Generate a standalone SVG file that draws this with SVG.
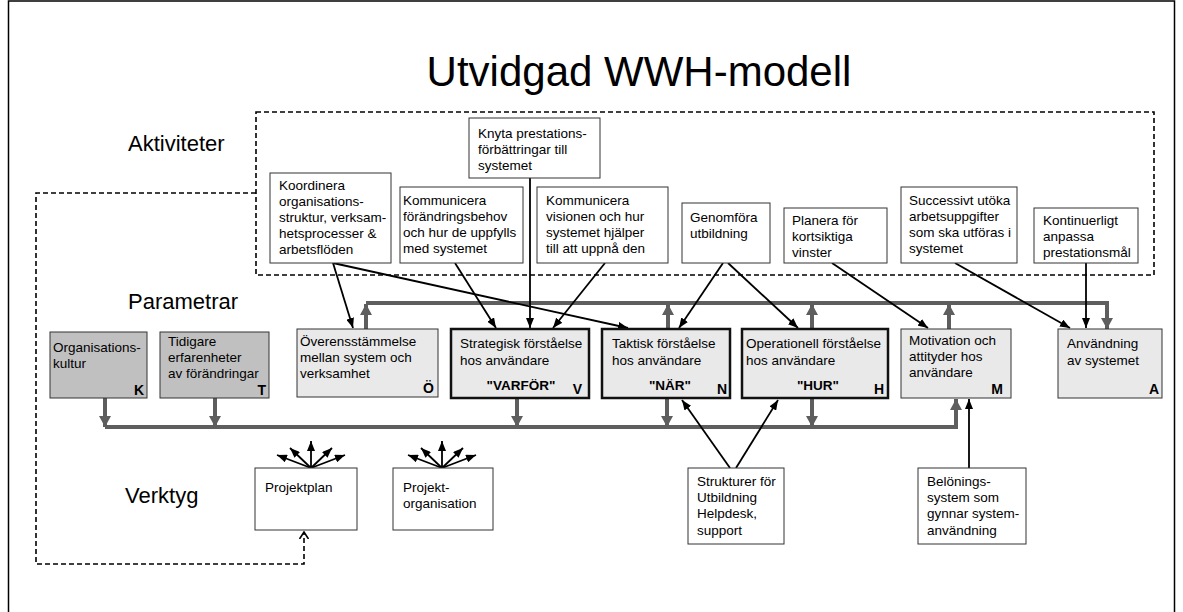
<svg xmlns="http://www.w3.org/2000/svg" width="1183" height="612" viewBox="0 0 1183 612">
<defs>
<style>
text{font-family:"Liberation Sans",Arial,Helvetica,sans-serif;fill:#000}
.t{font-size:13.5px}
.sec{font-size:22px}
.ttl{font-size:42px}
.b{font-size:13.5px;font-weight:bold}
.lt{font-size:14px;font-weight:bold;text-anchor:end}
.wb{fill:#fff;stroke:#333;stroke-width:1}
.lg{fill:#e9e9e9;stroke:#333;stroke-width:1}
.dg{fill:#c0c0c0;stroke:#333;stroke-width:1}
.tk{fill:#e9e9e9;stroke:#111;stroke-width:2.5}
.ar{stroke:#000;stroke-width:1.8;fill:none;marker-end:url(#ba)}
.bus{stroke:#5e5e5e;stroke-width:4;fill:none}
.ga{stroke:#5e5e5e;stroke-width:4;fill:none;marker-end:url(#ga)}
.dsh{stroke:#000;stroke-width:1.6;fill:none;stroke-dasharray:5,3}
</style>
<marker id="ba" markerUnits="userSpaceOnUse" markerWidth="10" markerHeight="8" refX="10" refY="4" orient="auto">
<path d="M0,0 L10,4 L0,8 z" fill="#000"/>
</marker>
<marker id="ga" markerUnits="userSpaceOnUse" markerWidth="11" markerHeight="12" refX="11" refY="6" orient="auto">
<path d="M0,0 L11,6 L0,12 z" fill="#5e5e5e"/>
</marker>
<marker id="oa" markerUnits="userSpaceOnUse" markerWidth="8" markerHeight="10" refX="7" refY="5" orient="auto">
<path d="M0,0.5 L7,5 L0,9.5" fill="none" stroke="#000" stroke-width="1.6"/>
</marker>
</defs>
<rect x="8.5" y="1" width="1166" height="622" fill="#fff" stroke="#000" stroke-width="1.5"/>
<text class="ttl" x="639" y="86" text-anchor="middle">Utvidgad WWH-modell</text>
<text class="sec" x="128" y="151">Aktiviteter</text>
<text class="sec" x="128" y="309">Parametrar</text>
<text class="sec" x="125" y="503">Verktyg</text>

<g id="connectors">
<rect x="256" y="112" width="898" height="163" class="dsh"/>
<path d="M256,193 H36 V564 H304 V532" class="dsh" marker-end="url(#oa)"/>
<path d="M366,303 H1107" class="bus"/>
<line x1="366" y1="329" x2="366" y2="304" class="ga"/>
<line x1="668" y1="329" x2="668" y2="304" class="ga"/>
<line x1="812" y1="329" x2="812" y2="304" class="ga"/>
<line x1="949" y1="329" x2="949" y2="304" class="ga"/>
<line x1="1107" y1="301" x2="1107" y2="329" class="ga"/>
<path d="M105,427 H956" class="bus"/>
<line x1="956" y1="429" x2="956" y2="399" class="ga"/>
<line x1="105" y1="398" x2="105" y2="427" class="ga"/>
<line x1="215" y1="398" x2="215" y2="427" class="ga"/>
<line x1="517" y1="398" x2="517" y2="427" class="ga"/>
<line x1="667" y1="398" x2="667" y2="427" class="ga"/>
<line x1="812" y1="398" x2="812" y2="427" class="ga"/>
<line x1="333" y1="263" x2="353" y2="328" class="ar"/>
<line x1="333" y1="263" x2="628" y2="328" class="ar"/>
<line x1="455" y1="263" x2="496" y2="328" class="ar"/>
<line x1="530" y1="178" x2="530" y2="328" class="ar"/>
<line x1="605" y1="263" x2="553" y2="328" class="ar"/>
<line x1="723" y1="263" x2="679" y2="328" class="ar"/>
<line x1="728" y1="263" x2="798" y2="328" class="ar"/>
<line x1="832" y1="263" x2="928" y2="328" class="ar"/>
<line x1="955" y1="263" x2="1070" y2="328" class="ar"/>
<line x1="1086" y1="263" x2="1086" y2="328" class="ar"/>
<line x1="730" y1="468" x2="682" y2="400" class="ar"/>
<line x1="736" y1="468" x2="778" y2="400" class="ar"/>
<line x1="969" y1="468" x2="969" y2="399" class="ar"/>
<line x1="311" y1="468" x2="277" y2="455" class="ar"/>
<line x1="311" y1="468" x2="290" y2="448" class="ar"/>
<line x1="311" y1="468" x2="311" y2="441" class="ar"/>
<line x1="311" y1="468" x2="332" y2="448" class="ar"/>
<line x1="311" y1="468" x2="345" y2="455" class="ar"/>
<line x1="442" y1="468" x2="408" y2="455" class="ar"/>
<line x1="442" y1="468" x2="421" y2="448" class="ar"/>
<line x1="442" y1="468" x2="442" y2="441" class="ar"/>
<line x1="442" y1="468" x2="463" y2="448" class="ar"/>
<line x1="442" y1="468" x2="476" y2="455" class="ar"/>
</g>

<g id="a-koordinera"><rect x="270" y="173" width="121" height="90" class="wb"/>
<text class="t" x="279" y="190">Koordinera</text><text class="t" x="279" y="206">organisations-</text><text class="t" x="279" y="222">struktur, verksam-</text><text class="t" x="279" y="238">hetsprocesser &amp;</text><text class="t" x="279" y="254">arbetsflöden</text></g>
<g id="a-kommunicera1"><rect x="400" y="187" width="123" height="76" class="wb"/>
<text class="t" x="403" y="205">Kommunicera</text><text class="t" x="403" y="221">förändringsbehov</text><text class="t" x="403" y="237">och hur de uppfylls</text><text class="t" x="403" y="253">med systemet</text></g>
<g id="a-knyta"><rect x="469" y="118" width="131" height="60" class="wb"/>
<text class="t" x="478" y="138">Knyta prestations-</text><text class="t" x="478" y="154">förbättringar till</text><text class="t" x="478" y="170">systemet</text></g>
<g id="a-kommunicera2"><rect x="537" y="187" width="131" height="76" class="wb"/>
<text class="t" x="546" y="205">Kommunicera</text><text class="t" x="546" y="221">visionen och hur</text><text class="t" x="546" y="237">systemet hjälper</text><text class="t" x="546" y="253">till att uppnå den</text></g>
<g id="a-genomfora"><rect x="682" y="203" width="88" height="60" class="wb"/>
<text class="t" x="690" y="222">Genomföra</text><text class="t" x="690" y="238">utbildning</text></g>
<g id="a-planera"><rect x="784" y="208" width="103" height="55" class="wb"/>
<text class="t" x="792" y="225">Planera för</text><text class="t" x="792" y="241">kortsiktiga</text><text class="t" x="792" y="257">vinster</text></g>
<g id="a-successivt"><rect x="901" y="187" width="116" height="76" class="wb"/>
<text class="t" x="909" y="205">Successivt utöka</text><text class="t" x="909" y="221">arbetsuppgifter</text><text class="t" x="909" y="237">som ska utföras i</text><text class="t" x="909" y="253">systemet</text></g>
<g id="a-kontinuerligt"><rect x="1034" y="208" width="104" height="55" class="wb"/>
<text class="t" x="1043" y="225">Kontinuerligt</text><text class="t" x="1043" y="241">anpassa</text><text class="t" x="1043" y="257">prestationsmål</text></g>

<g id="p-k"><rect x="50" y="332" width="97" height="66" class="dg"/>
<text class="t" x="53" y="352">Organisations-</text><text class="t" x="53" y="368">kultur</text><text class="lt" x="144" y="395">K</text></g>
<g id="p-t"><rect x="160" y="332" width="109" height="66" class="dg"/>
<text class="t" x="168" y="346">Tidigare</text><text class="t" x="168" y="362">erfarenheter</text><text class="t" x="168" y="378">av förändringar</text><text class="lt" x="266" y="395">T</text></g>
<g id="p-o"><rect x="297" y="329" width="141" height="68" class="lg"/>
<text class="t" x="300" y="346">Överensstämmelse</text><text class="t" x="300" y="362">mellan system och</text><text class="t" x="300" y="378">verksamhet</text><text class="lt" x="434" y="393">Ö</text></g>
<g id="p-v"><rect x="451" y="329" width="138" height="69" class="tk"/>
<text class="t" x="460" y="348">Strategisk förståelse</text><text class="t" x="460" y="365">hos användare</text><text class="b" x="521" y="390" text-anchor="middle">"VARFÖR"</text><text class="lt" x="582" y="394">V</text></g>
<g id="p-n"><rect x="602" y="329" width="128" height="69" class="tk"/>
<text class="t" x="612" y="348">Taktisk förståelse</text><text class="t" x="612" y="365">hos användare</text><text class="b" x="670" y="390" text-anchor="middle">"NÄR"</text><text class="lt" x="727" y="394">N</text></g>
<g id="p-h"><rect x="742" y="329" width="146" height="69" class="tk"/>
<text class="t" x="746" y="348">Operationell förståelse</text><text class="t" x="746" y="365">hos användare</text><text class="b" x="818" y="390" text-anchor="middle">"HUR"</text><text class="lt" x="884" y="394">H</text></g>
<g id="p-m"><rect x="901" y="329" width="110" height="69" class="lg"/>
<text class="t" x="909" y="345">Motivation och</text><text class="t" x="909" y="361">attityder hos</text><text class="t" x="909" y="377">användare</text><text class="lt" x="1003" y="394">M</text></g>
<g id="p-a"><rect x="1058" y="329" width="104" height="69" class="lg"/>
<text class="t" x="1067" y="348">Användning</text><text class="t" x="1067" y="365">av systemet</text><text class="lt" x="1159" y="394">A</text></g>

<g id="v-projektplan"><rect x="255" y="468" width="102" height="62" class="wb"/>
<text class="t" x="265" y="492">Projektplan</text></g>
<g id="v-projektorg"><rect x="393" y="468" width="100" height="62" class="wb"/>
<text class="t" x="403" y="492">Projekt-</text><text class="t" x="403" y="508">organisation</text></g>
<g id="v-strukturer"><rect x="688" y="468" width="96" height="76" class="wb"/>
<text class="t" x="697" y="486">Strukturer för</text><text class="t" x="697" y="502">Utbildning</text><text class="t" x="697" y="518">Helpdesk,</text><text class="t" x="697" y="535">support</text></g>
<g id="v-belonings"><rect x="918" y="468" width="108" height="76" class="wb"/>
<text class="t" x="927" y="486">Belönings-</text><text class="t" x="927" y="502">system som</text><text class="t" x="927" y="518">gynnar system-</text><text class="t" x="927" y="535">användning</text></g>
</svg>
